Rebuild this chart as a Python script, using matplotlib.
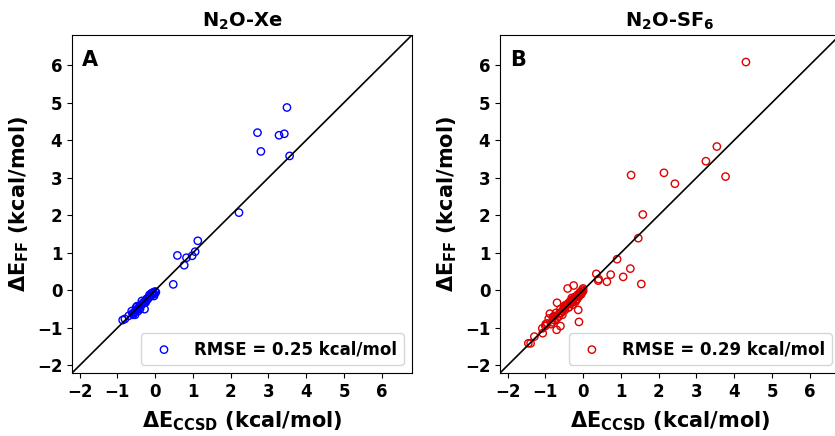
import numpy as np
import matplotlib.pyplot as plt

# N2O-Xe : CCSD vs FF energies (kcal/mol)
xe_ccsd = [3.49, 2.71, 3.28, 3.42, 2.80, 3.56, 2.22, 1.13, 0.59, 0.83, 0.98,
           1.06, 0.77, 0.48, 0.00, -0.03, -0.05, -0.08, -0.10, -0.12, -0.15,
           -0.18, -0.20, -0.22, -0.25, -0.28, -0.30, -0.33, -0.35, -0.38,
           -0.40, -0.42, -0.45, -0.47, -0.50, -0.52, -0.55, -0.57, -0.60,
           -0.53, -0.28, -0.86, -0.80, -0.50, -0.45, -0.40, -0.02, 0.02,
           -0.62, -0.58, -0.48, -0.35, -0.25, -0.15, -0.06, -0.70]
xe_ff = [4.87, 4.20, 4.13, 4.17, 3.70, 3.58, 2.07, 1.32, 0.93, 0.87, 0.92,
         1.03, 0.67, 0.16, -0.03, -0.15, -0.05, -0.10, -0.08, -0.15, -0.18,
         -0.20, -0.24, -0.22, -0.28, -0.30, -0.32, -0.35, -0.38, -0.40,
         -0.42, -0.45, -0.48, -0.50, -0.52, -0.55, -0.58, -0.60, -0.62,
         -0.65, -0.50, -0.79, -0.76, -0.45, -0.55, -0.50, -0.10, -0.05,
         -0.55, -0.65, -0.42, -0.28, -0.32, -0.12, -0.08, -0.68]

# N2O-SF6
sf6_ccsd = [4.31, 3.54, 3.25, 3.77, 1.27, 2.14, 2.43, 1.58, 1.46, 0.90, 1.25,
            1.54, 1.06, 0.73, 0.63, 0.35, 0.40, 0.41, -0.41, -0.25, -0.11,
            -0.13, -0.69, -0.70, -1.07, -1.08, -1.29, -1.45, -1.39, -0.99,
            -0.91, -0.82, -0.79, -0.60, -0.62, -0.88, -0.75, -0.55, -0.50,
            -0.45, -0.40, -0.35, -0.30, -0.25, -0.20, -0.15, -0.10, -0.05,
            0.00, 0.00, -0.02, -0.05, -0.08, -0.12, -0.18, -0.22, -0.28,
            -0.32, -0.38, -0.42, -0.48, -0.52, -0.58, -0.65, -0.70, -0.75,
            -0.80, -0.85, -0.95, -0.30, -0.20, -0.15, -0.60, -0.48, -0.38,
            -0.28, -0.10, -0.05, -1.00, -0.72, -0.55]
sf6_ff = [6.08, 3.83, 3.44, 3.03, 3.07, 3.13, 2.84, 2.02, 1.39, 0.83, 0.58,
          0.17, 0.36, 0.42, 0.23, 0.44, 0.26, 0.30, 0.05, 0.13, -0.84,
          -0.52, -0.33, -1.05, -1.14, -1.01, -1.23, -1.41, -1.41, -0.90,
          -0.75, -0.85, -0.70, -0.95, -0.60, -0.62, -0.80, -0.55, -0.45,
          -0.40, -0.35, -0.30, -0.25, -0.22, -0.18, -0.12, -0.08, -0.04,
          0.05, -0.02, 0.02, -0.10, -0.05, -0.15, -0.25, -0.18, -0.30,
          -0.35, -0.45, -0.38, -0.52, -0.50, -0.60, -0.70, -0.75, -0.68,
          -0.72, -0.90, -0.88, -0.20, -0.30, -0.22, -0.50, -0.40, -0.45,
          -0.38, -0.15, -0.08, -0.95, -0.60, -0.65]

panels = [
    (r"N$_\mathbf{2}$O-Xe", "A", xe_ccsd, xe_ff, "blue", "RMSE = 0.25 kcal/mol"),
    (r"N$_\mathbf{2}$O-SF$_\mathbf{6}$", "B", sf6_ccsd, sf6_ff, "#dd0000", "RMSE = 0.29 kcal/mol"),
]

fig = plt.figure(figsize=(8.35, 4.36), dpi=100)
lefts = [72 / 835, 500 / 835]
lim = (-2.2, 6.8)

for left, (title, letter, xs, ys, col, lab) in zip(lefts, panels):
    ax = fig.add_axes([left, 63 / 436, 340 / 835, 338 / 436])
    ax.scatter(xs, ys, s=28, facecolors="none", edgecolors=col, linewidths=1.0, label=lab)
    ax.plot(lim, lim, color="black", lw=1.2)
    ax.set_xlim(lim)
    ax.set_ylim(lim)
    ax.set_xticks(range(-2, 7))
    ax.set_yticks(range(-2, 7))
    for t in ax.get_xticklabels() + ax.get_yticklabels():
        t.set_fontweight("bold")
        t.set_fontsize(12)
    ax.set_title(title, fontsize=14, fontweight="bold")
    ax.set_xlabel(r"$\mathbf{\Delta E_{CCSD}}$ (kcal/mol)", fontsize=15, fontweight="bold", labelpad=6)
    ax.set_ylabel(r"$\mathbf{\Delta E_{FF}}$ (kcal/mol)", fontsize=15, fontweight="bold")
    ax.text(0.03, 0.955, letter, transform=ax.transAxes, fontsize=15,
            fontweight="bold", va="top", ha="left")
    ax.legend(loc="lower right", prop={"weight": "bold", "size": 12})

fig.savefig("out.png", dpi=100)
